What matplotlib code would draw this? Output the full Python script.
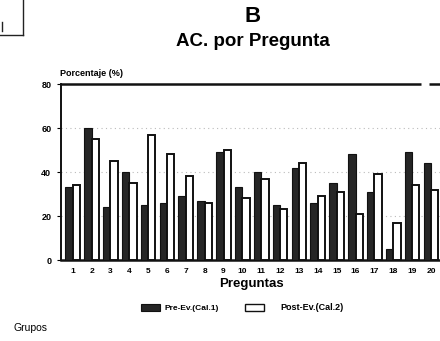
import matplotlib
matplotlib.use("Agg")
import matplotlib.pyplot as plt
import numpy as np
from matplotlib.lines import Line2D
from matplotlib.patches import Rectangle

preguntas = [str(i) for i in range(1, 21)]
pre_ev = [33, 60, 24, 40, 25, 26, 29, 27, 49, 33, 40, 25, 42, 26, 35, 48, 31, 5, 49, 44]
post_ev = [34, 55, 45, 35, 57, 48, 38, 26, 50, 28, 37, 23, 44, 29, 31, 21, 39, 17, 34, 32]
y_ticks = [0, 20, 40, 60, 80]

plt.rcParams['font.family'] = ['Liberation Sans', 'DejaVu Sans']
plt.rcParams['font.weight'] = 'bold'

W, H = 440, 341
fig = plt.figure(figsize=(W / 100, H / 100), dpi=100)
fig.patch.set_facecolor('white')

# axes placed in pixel units; right side runs past the figure edge
left, right, top, bottom = 61, 446, 84, 260
ax = fig.add_axes([left / W, 1 - bottom / H, (right - left) / W, (bottom - top) / H])

x = np.arange(1, 21)
bw = 0.39
ax.bar(x - bw / 2, pre_ev, width=bw, color='#262626', edgecolor='#111111', linewidth=0.8, zorder=3)
ax.bar(x + bw / 2, post_ev, width=bw, color='white', edgecolor='#111111', linewidth=1.4, zorder=3)

ax.set_xlim(0.38, 20.8)
ax.set_ylim(0, 80)
ax.set_yticks(y_ticks)
ax.set_yticklabels([str(v) for v in y_ticks], fontsize=6.5, fontweight='bold')
ax.set_xticks(x)
ax.set_xticklabels(preguntas, fontsize=6, fontweight='bold')
ax.tick_params(axis='x', length=0, pad=6)
ax.tick_params(axis='y', length=3, width=0.8, pad=4)

for v in [20, 40, 60]:
    ax.axhline(v, color='#bbbbbb', linestyle=(0, (1, 3)), linewidth=0.8, zorder=1)

# top border drawn with a small break near the right end
ax.spines['top'].set_visible(False)
ax.spines['right'].set_visible(False)
ax.plot([0, (421 - left) / (right - left)], [1, 1], transform=ax.transAxes,
        color='#111111', linewidth=1.8, clip_on=False, solid_capstyle='butt')
ax.plot([(429 - left) / (right - left), 1], [1, 1], transform=ax.transAxes,
        color='#111111', linewidth=1.8, clip_on=False, solid_capstyle='butt')
for s in ['left', 'bottom']:
    ax.spines[s].set_color('#111111')
ax.spines['left'].set_linewidth(1.4)
ax.spines['bottom'].set_linewidth(1.8)

fig.text(60 / W, 1 - 73 / H, 'Porcentaje (%)', fontsize=6.5, fontweight='bold', ha='left', va='center')

# titles
fig.text(253 / W, 1 - 16 / H, 'B', fontsize=16, fontweight='bold', ha='center', va='center')
fig.text(253 / W, 1 - 42 / H, 'AC. por Pregunta', fontsize=13.5, fontweight='bold', ha='center', va='center')

fig.text(251 / W, 1 - 284 / H, 'Preguntas', fontsize=9.5, fontweight='bold', ha='center', va='center')

# legend
fig.patches.append(Rectangle((141 / W, 1 - 311 / H), 19 / W, 7 / H, transform=fig.transFigure,
                             facecolor='#262626', edgecolor='#111111', linewidth=0.8))
fig.text(164 / W, 1 - 308 / H, 'Pre-Ev.(Cal.1)', fontsize=6, fontweight='bold', ha='left', va='center')
fig.patches.append(Rectangle((245 / W, 1 - 311 / H), 19 / W, 7 / H, transform=fig.transFigure,
                             facecolor='white', edgecolor='#111111', linewidth=1.0))
fig.text(280 / W, 1 - 308 / H, 'Post-Ev.(Cal.2)', fontsize=6.5, fontweight='bold', ha='left', va='center')

fig.text(14 / W, 1 - 328 / H, 'Grupos', fontsize=7.5, fontweight='normal', ha='left', va='center')

# corner box from the neighbouring panel
fig.lines.append(Line2D([23 / W, 23 / W], [1.0, 1 - 35 / H], transform=fig.transFigure,
                        color='#222222', linewidth=1.0))
fig.lines.append(Line2D([0, 23 / W], [1 - 35 / H, 1 - 35 / H], transform=fig.transFigure,
                        color='#222222', linewidth=1.0))
fig.lines.append(Line2D([1.5 / W, 1.5 / W], [1 - 22 / H, 1 - 31 / H], transform=fig.transFigure,
                        color='#222222', linewidth=1.0))

fig.savefig('out.png', dpi=100, facecolor='white')
